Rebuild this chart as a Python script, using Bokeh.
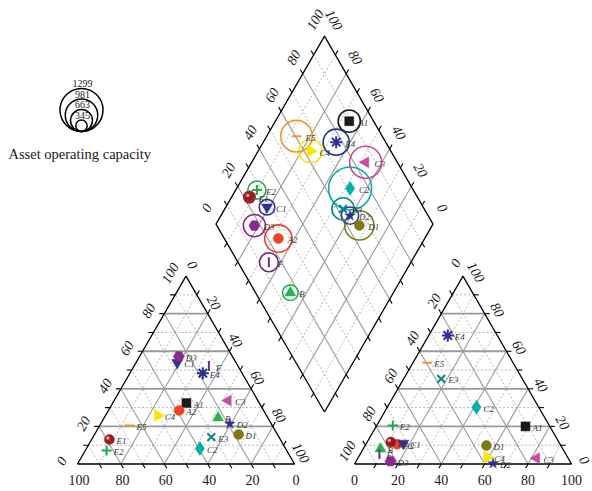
import math
from bokeh.plotting import figure
from bokeh.models import Range1d, ColumnDataSource
from bokeh.core.properties import value
from bokeh.embed import file_html
from bokeh.resources import INLINE

# ---- sample chemistry (% of meq) and operating capacity ----
samples = ["A1", "A2", "B", "C1", "C2", "C3", "C4", "D1", "D2", "D3",
           "E1", "E2", "E3", "E4", "E5", "F"]
ca = [33.6, 38.9, 22.9, 27.1, 39.5, 13.7, 50.1, 17.9, 19.1, 24.7,
      78.8, 83.0, 31.2, 18.1, 65.8, 13.4]
mg = [32.4, 28.5, 24.6, 53.9, 8.2, 33.8, 25.8, 15.7, 21.4, 57.2,
      13.0, 7.2, 14.3, 48.3, 20.5, 52.1]
cl = [68.8, 14.4, 7.9, 17.0, 41.1, 82.3, 59.4, 55.9, 63.7, 15.8,
      10.9, 7.4, 17.3, 8.8, 6.6, 8.8]
so4 = [20.0, 10.5, 8.1, 11.0, 30.2, 3.1, 3.6, 9.8, 0.3, 1.5,
       11.7, 20.5, 45.3, 68.4, 53.9, 5.4]
capacity = [670, 827, 472, 472, 1299, 965, 708, 885, 522, 670,
            345, 546, 670, 788, 953, 570]

legend_values = [1299, 981, 663, 345]
tick_values = [0, 20, 40, 60, 80, 100]
legend_title = "Asset operating capacity"

# marker, colour, size (px), rotation
styles = {
    "A1": ("square", "#1a1a1a", 9, 0.0),
    "A2": ("circle", "#EF4123", 10, 0.0),
    "B": ("triangle", "#2BB24C", 11, 0.0),
    "C1": ("inverted_triangle", "#2E3192", 11, 0.0),
    "C2": ("diamond", "#00B2A9", 14, 0.0),
    "C3": ("triangle", "#C74C9C", 11, math.pi / 2),
    "C4": ("triangle", "#FFE400", 12, -math.pi / 2),
    "D1": ("circle", "#7F7A10", 10, 0.0),
    "D2": ("star", "#2E3192", 11, 0.0),
    "D3": ("hex", "#8E278F", 11, 0.0),
    "E1": ("circle", "#9A1B20", 10, 0.0),
    "E2": ("cross", "#1FAA4A", 10, 0.0),
    "E3": ("x", "#008B8B", 11, 0.0),
    "E4": ("asterisk", "#2E3192", 12, 0.0),
    "E5": ("dash", "#F7941E", 10, 0.0),
    "F": ("dash", "#6B2C91", 10, math.pi / 2),
}
LINE_MARKERS = {"cross", "x", "asterisk", "dash"}

# ---- geometry (data units: triangle side = 100) ----
W, H = 592, 491
PX = 2.17                  # screen pixels per data unit
X0, Y0 = 77.0, 463.5       # screen position of the cation triangle's Ca corner
GAP = 60 / PX
S60 = math.sqrt(3) / 2
TH = 100 * S60
CAP_PX = 43 / 1299         # bubble diameter in px per capacity unit


def d(pixels):
    return pixels / PX


CAT = [(0.0, 0.0), (100.0, 0.0), (50.0, TH)]                 # Ca, Na+K, Mg
AN = [(100 + GAP, 0.0), (200 + GAP, 0.0), (150 + GAP, TH)]    # HCO3, Cl, SO4
DB = (100 + GAP / 2, GAP * S60)                               # diamond bottom


def cation_xy(c, m):
    n = 100 - c - m
    return n + 0.5 * m, m * S60


def anion_xy(c, s):
    return AN[0][0] + c + 0.5 * s, s * S60


def diamond_xy(s, c):
    return DB[0] + 0.5 * (s - c), DB[1] + S60 * (s + c)


p = figure(width=W, height=H, output_backend="svg", toolbar_location=None,
           x_range=Range1d(-X0 / PX, (W - X0) / PX),
           y_range=Range1d((Y0 - H) / PX, Y0 / PX),
           x_axis_location=None, y_axis_location=None, min_border=0)
p.xgrid.visible = False
p.ygrid.visible = False
p.outline_line_color = None
p.background_fill_color = "white"

# ---- grids ----
maj_x, maj_y, hmaj_x, hmaj_y, min_x, min_y = [], [], [], [], [], []


def seg(a, b, t, horizontal=False):
    if t % 20 == 0:
        if horizontal:
            hmaj_x.append([a[0], b[0]]); hmaj_y.append([a[1], b[1]])
        else:
            maj_x.append([a[0], b[0]]); maj_y.append([a[1], b[1]])
    else:
        min_x.append([a[0], b[0]]); min_y.append([a[1], b[1]])


for V in (CAT, AN):
    for i in range(3):
        j, k = [q for q in range(3) if q != i]
        for t in range(10, 100, 10):
            f = t / 100
            a = (V[i][0] * f + V[j][0] * (1 - f), V[i][1] * f + V[j][1] * (1 - f))
            b = (V[i][0] * f + V[k][0] * (1 - f), V[i][1] * f + V[k][1] * (1 - f))
            seg(a, b, t, horizontal=(i == 2))

for t in range(10, 100, 10):
    seg(diamond_xy(t, 0), diamond_xy(t, 100), t)
    seg(diamond_xy(0, t), diamond_xy(100, t), t)

p.multi_line(min_x, min_y, line_color="#b5b5b5", line_width=1, line_dash="2 2")
p.multi_line(maj_x, maj_y, line_color="#9a9a9a", line_width=1.1)
p.multi_line(hmaj_x, hmaj_y, line_color="#9a9a9a", line_width=1.8)

# ---- outlines ----
for V in (CAT, AN):
    p.line([V[0][0], V[1][0], V[2][0], V[0][0]], [V[0][1], V[1][1], V[2][1], V[0][1]],
           line_color="black", line_width=1.3)
dia = [diamond_xy(0, 0), diamond_xy(100, 0), diamond_xy(100, 100), diamond_xy(0, 100), diamond_xy(0, 0)]
p.line([q[0] for q in dia], [q[1] for q in dia], line_color="black", line_width=1.3)

# ---- ticks and tick labels ----
tk_x, tk_y = [], []
lab_x, lab_y, lab_t, lab_a, lab_style = [], [], [], [], []


def edge(p0, p1, values, tick_dir, label_off, angle, labelled=True):
    for t in range(0, 101, 10):
        f = t / 100
        x = p0[0] + (p1[0] - p0[0]) * f
        y = p0[1] + (p1[1] - p0[1]) * f
        if 0 < t < 100:
            tk_x.append([x, x + d(5) * tick_dir[0]])
            tk_y.append([y, y + d(5) * tick_dir[1]])
        if labelled and t % 20 == 0:
            lab_x.append(x + d(label_off[0]))
            lab_y.append(y + d(label_off[1]))
            lab_t.append(str(values[t // 20]))
            lab_a.append(angle)
            lab_style.append("normal" if angle == 0 else "italic")


rev = tick_values[::-1]
up_l = (-0.5, S60)
up_r = (0.5, S60)
# cation triangle
edge(CAT[0], CAT[1], rev, (0.5, -S60), (1.5, -16), 0.0)
edge(CAT[0], CAT[2], tick_values, (-1, 0), (-16, 3), math.pi / 3)
edge(CAT[2], CAT[1], tick_values, up_r, (13 * up_r[0], 13 * up_r[1]), -math.pi / 3)
# anion triangle
edge(AN[0], AN[1], tick_values, (-0.5, -S60), (0, -16), 0.0)
edge(AN[0], AN[2], rev, up_l, (15 * up_l[0], 15 * up_l[1]), math.pi / 3)
edge(AN[1], AN[2], tick_values, (1, 0), (13, 4), -math.pi / 3)
# diamond
edge(diamond_xy(0, 100), diamond_xy(100, 100), tick_values, up_l,
     (19 * up_l[0], 19 * up_l[1]), math.pi / 3)
edge(diamond_xy(100, 100), diamond_xy(100, 0), rev, up_r,
     (19 * up_r[0], 19 * up_r[1]), -math.pi / 3)
edge(diamond_xy(0, 0), diamond_xy(0, 100), tick_values, (-0.5, -S60), (0, 0), 0, labelled=False)
edge(diamond_xy(0, 0), diamond_xy(100, 0), tick_values, (0.5, -S60), (0, 0), 0, labelled=False)

p.multi_line(tk_x, tk_y, line_color="black", line_width=1.1)
p.text(x=lab_x, y=lab_y, text=lab_t, angle=lab_a, text_font_style=lab_style,
       text_font=value("Liberation Serif"), text_font_size="14px",
       text_align="center", text_baseline="middle", text_color="#1a1a1a")

# ---- sample points ----
cx, cy, ax, ay, dx, dy = [], [], [], [], [], []
for c_, m_, l_, s_ in zip(ca, mg, cl, so4):
    x, y = cation_xy(c_, m_); cx.append(x); cy.append(y)
    x, y = anion_xy(l_, s_); ax.append(x); ay.append(y)
    x, y = diamond_xy(l_ + s_, c_ + m_); dx.append(x); dy.append(y)

mk = [styles[s][0] for s in samples]
col = [styles[s][1] for s in samples]
sz = [styles[s][2] for s in samples]
ang = [styles[s][3] for s in samples]
lw = [2.0 if m in LINE_MARKERS else 0.5 for m in mk]

# capacity bubbles in the diamond
p.scatter(dx, dy, marker="circle", size=[v * CAP_PX for v in capacity],
          fill_color=None, line_color=col, line_width=1.6)

for xs, ys, off in ((cx, cy, 7), (ax, ay, 7), (dx, dy, 9)):
    src = ColumnDataSource(dict(x=xs, y=ys, m=mk, c=col, s=sz, a=ang, w=lw))
    p.scatter("x", "y", marker="m", size="s", angle="a", fill_color="c",
              line_color="c", line_width="w", source=src)
    hi = samples.index("E1")
    p.scatter([xs[hi] - d(1.6)], [ys[hi] + d(1.6)], marker="circle", size=3.5,
              fill_color="#f0c0c0", line_color=None, fill_alpha=0.8)
    p.text(x=[x + d(off) for x in xs], y=[y - d(1.5) for y in ys], text=samples,
           text_font=value("Liberation Serif"), text_font_style="italic",
           text_font_size="9px", text_align="left", text_baseline="middle",
           text_color="#3a3a3a")

# ---- capacity legend ----
LX, LB = d(81 - X0), d(Y0 - 131)
for v in legend_values:
    dia_px = v * CAP_PX
    p.scatter([LX], [LB + d(dia_px / 2)], marker="circle", size=dia_px,
              fill_color=None, line_color="black", line_width=1.5)
    p.text([LX + d(1)], [LB + d(dia_px + 5)], text=[str(v)],
           text_font=value("Liberation Serif"), text_font_size="10px",
           text_align="center", text_baseline="middle", text_color="#1a1a1a")
p.text([d(8 - X0)], [d(Y0 - 153)], text=[legend_title],
       text_font=value("Liberation Serif"), text_font_size="14.5px",
       text_align="left", text_baseline="alphabetic", text_color="#1a1a1a")

open("out.html", "w").write(file_html(p, INLINE))
